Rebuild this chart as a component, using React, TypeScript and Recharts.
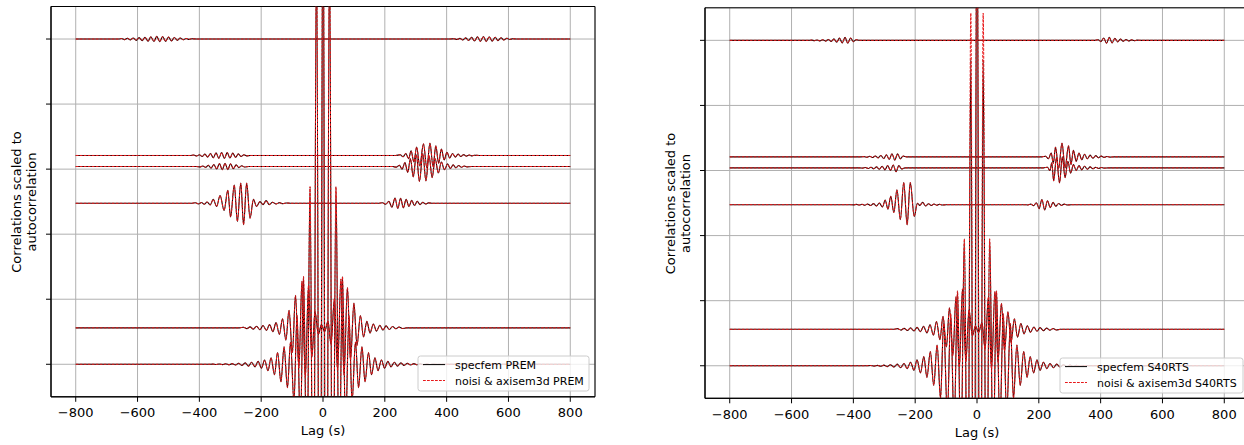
import React from "react";
import { LineChart, Line, XAxis, YAxis, CartesianGrid, ReferenceArea } from "recharts";

type Trace = [number, number][];

const lagTicks = [-800, -600, -400, -200, 0, 200, 400, 600, 800];
const levelTicks = [0, 1, 2, 3, 4, 5];
const traceOffsets = [0, 0.56, 2.475, 3.04, 3.21, 5.0];

const premLabels = ["specfem PREM", "noisi & axisem3d PREM"];
const s40Labels = ["specfem S40RTS", "noisi & axisem3d S40RTS"];

// ---------- PREM panel traces ([lag s, amplitude]) ----------
const premT1: Trace = [
  [-800, 0], [-370, 0], [-357, 0.003], [-346, -0.004], [-336, 0.005], [-325, -0.006], [-315, 0.007], [-304, -0.008],
  [-294, 0.01], [-283, -0.012], [-273, 0.015], [-262, -0.018], [-252, 0.022], [-241, -0.028], [-231, 0.03], [-220, -0.04],
  [-210, 0.045], [-199, -0.06], [-189, 0.065], [-178, -0.1], [-168, 0.1], [-157, -0.16], [-147, 0.18], [-136, -0.27],
  [-126, 0.27], [-115, -0.36], [-105, 0.34], [-94, -0.58], [-84, 0.75], [-73, -1.0], [-63, 1.35], [-52, -1.9],
  [-42, 2.73], [-31, -4], [-21, 6.5], [-10, -7], [0, 8], [10, -7], [21, 6.5], [31, -4], [42, 2.73], [52, -1.9],
  [63, 1.35], [73, -1.0], [84, 0.75], [94, -0.58], [105, 0.34], [115, -0.36], [126, 0.27], [136, -0.27], [147, 0.18],
  [157, -0.16], [168, 0.1], [178, -0.1], [189, 0.065], [199, -0.06], [210, 0.045], [220, -0.04], [231, 0.03],
  [241, -0.028], [252, 0.022], [262, -0.018], [273, 0.015], [283, -0.012], [294, 0.01], [304, -0.008], [315, 0.007],
  [325, -0.006], [336, 0.005], [346, -0.004], [357, 0.003], [370, 0], [800, 0],
];
const premT2: Trace = [
  [-800, 0], [-270, 0], [-257, 0.01], [-246, -0.012], [-236, 0.015], [-225, -0.02], [-215, 0.025], [-204, -0.03],
  [-194, 0.035], [-183, -0.04], [-173, 0.05], [-162, -0.06], [-152, 0.08], [-141, -0.1], [-131, 0.14], [-120, -0.19],
  [-110, 0.27], [-99, -0.38], [-89, 0.5], [-78, -0.62], [-68, 0.72], [-57, -0.75], [-47, 0.65], [-36, -0.45],
  [-26, 0.25], [-15, -0.1], [-5, 0.05], [5, -0.06], [16, 0.1], [26, -0.25], [37, 0.45], [47, -0.65], [58, 0.75],
  [68, -0.72], [79, 0.62], [89, -0.5], [100, 0.38], [110, -0.27], [121, 0.19], [131, -0.14], [142, 0.1], [152, -0.08],
  [163, 0.06], [173, -0.05], [184, 0.04], [194, -0.035], [204, 0.03], [215, -0.025], [225, 0.02], [236, -0.015],
  [246, 0.012], [257, -0.01], [270, 0], [800, 0],
];
const premT3: Trace = [
  [-800, 0], [-425, 0], [-413, 0.008], [-403, -0.01], [-393, 0.012], [-384, -0.014], [-375, 0.02], [-365, -0.025],
  [-355, 0.06], [-344, -0.05], [-333, 0.12], [-320, -0.11], [-308, 0.2], [-299, -0.21], [-287, 0.28], [-277, -0.28],
  [-266, 0.31], [-257, -0.33], [-247, 0.31], [-236, -0.23], [-225, 0.06], [-215, -0.05], [-204, 0.025], [-194, -0.02],
  [-184, 0.04], [-174, -0.02], [-163, 0.015], [-152, -0.012], [-141, 0.01], [-130, -0.007], [-118, 0.005], [-105, 0],
  [180, 0], [192, 0.008], [203, -0.015], [213, 0.03], [223, -0.06], [233, 0.08], [242, -0.08], [251, 0.075],
  [260, -0.07], [269, 0.06], [278, -0.05], [287, 0.045], [296, -0.035], [305, 0.03], [314, -0.02], [323, 0.014],
  [332, -0.01], [341, 0.006], [355, 0], [800, 0],
];
const premT4: Trace = [
  [-800, 0], [-410, 0], [-398, -0.006], [-389, 0.009], [-380, -0.013], [-371, 0.018], [-362, -0.024], [-353, 0.03],
  [-344, -0.038], [-335, 0.045], [-326, -0.05], [-317, 0.05], [-308, -0.048], [-299, 0.042], [-290, -0.035],
  [-281, 0.026], [-272, -0.018], [-263, 0.012], [-254, -0.007], [-240, 0],
  [225, 0], [238, -0.01], [247, 0.02], [256, -0.04], [265, 0.06], [274, -0.09], [283, 0.12], [292, -0.16], [302, 0.18],
  [312, -0.23], [323, 0.2], [333, -0.22], [343, 0.17], [353, -0.17], [363, 0.12], [373, -0.1], [383, 0.07],
  [393, -0.05], [403, 0.04], [412, -0.03], [421, 0.025], [430, -0.02], [439, 0.015], [448, -0.011], [457, 0.008],
  [466, -0.005], [480, 0], [800, 0],
];
const premT5: Trace = [
  [-800, 0], [-430, 0], [-418, 0.006], [-409, -0.008], [-400, 0.012], [-391, -0.016], [-382, 0.02], [-373, -0.026],
  [-364, 0.03], [-355, -0.036], [-346, 0.04], [-337, -0.044], [-328, 0.046], [-319, -0.046], [-310, 0.044],
  [-301, -0.04], [-292, 0.036], [-283, -0.03], [-274, 0.024], [-265, -0.016], [-256, 0.01], [-247, -0.006], [-235, 0],
  [235, 0], [250, 0.01], [259, -0.02], [268, 0.03], [277, -0.05], [285, 0.07], [294, -0.1], [303, 0.13], [313, -0.16],
  [325, 0.18], [336, -0.19], [346, 0.19], [356, -0.17], [365, 0.15], [374, -0.12], [383, 0.1], [392, -0.07],
  [401, 0.05], [410, -0.04], [419, 0.03], [428, -0.025], [437, 0.02], [446, -0.016], [455, 0.013], [464, -0.01],
  [473, 0.008], [482, -0.006], [491, 0.004], [505, 0], [800, 0],
];
const premT6: Trace = [
  [-800, 0], [-660, 0], [-652, 0.008], [-642, -0.01], [-633, 0.012], [-623, -0.014], [-614, 0.016], [-604, -0.02],
  [-595, 0.022], [-585, -0.025], [-576, 0.028], [-566, -0.032], [-557, 0.035], [-547, -0.038], [-538, 0.04],
  [-528, -0.04], [-519, 0.038], [-509, -0.036], [-500, 0.032], [-490, -0.028], [-481, 0.024], [-471, -0.02],
  [-462, 0.016], [-452, -0.012], [-443, 0.009], [-433, -0.006], [-424, 0.004], [-410, 0],
  [410, 0], [424, 0.004], [433, -0.007], [443, 0.01], [452, -0.014], [462, 0.018], [471, -0.022], [481, 0.026],
  [490, -0.03], [500, 0.034], [509, -0.036], [519, 0.038], [528, -0.038], [538, 0.036], [547, -0.032], [557, 0.028],
  [566, -0.024], [576, 0.02], [585, -0.016], [595, 0.012], [604, -0.008], [614, 0.005], [625, 0], [800, 0],
];

// ---------- S40RTS panel traces ----------
const s40T1: Trace = [
  [-800, 0], [-360, 0], [-344, 0.004], [-333, -0.005], [-322, 0.006], [-312, -0.008], [-301, 0.01], [-290, -0.013],
  [-280, 0.016], [-269, -0.02], [-258, 0.025], [-247, -0.03], [-236, 0.035], [-226, -0.045], [-215, 0.055],
  [-204, -0.07], [-194, 0.09], [-183, -0.11], [-172, 0.14], [-162, -0.18], [-151, 0.22], [-140, -0.3], [-129, 0.32],
  [-118, -0.5], [-108, 0.65], [-96, -0.75], [-85, 0.8], [-74, -0.95], [-63, 1.15], [-52, -1.5], [-41, 1.95],
  [-30, -3.2], [-20, 4.7], [-10, -6], [0, 8], [10, -6], [20, 4.7], [30, -3.2], [41, 1.95], [52, -1.5], [63, 1.15],
  [74, -0.95], [85, 0.8], [96, -0.75], [108, 0.65], [118, -0.5], [129, 0.32], [140, -0.3], [151, 0.22], [162, -0.18],
  [172, 0.14], [183, -0.11], [194, 0.09], [204, -0.07], [215, 0.055], [226, -0.045], [236, 0.035], [247, -0.03],
  [258, 0.025], [269, -0.02], [280, 0.016], [290, -0.013], [301, 0.01], [312, -0.008], [322, 0.006], [333, -0.005],
  [344, 0.004], [360, 0], [800, 0],
];
const s40T1NoisiPeaks: Trace = [[-20, 5.42], [20, 5.42]];
const s40T2: Trace = [
  [-800, 0], [-270, 0], [-257, 0.01], [-246, -0.012], [-236, 0.015], [-225, -0.018], [-215, 0.022], [-204, -0.026],
  [-194, 0.03], [-183, -0.036], [-173, 0.045], [-162, -0.055], [-152, 0.07], [-141, -0.09], [-131, 0.12],
  [-120, -0.16], [-110, 0.2], [-99, -0.27], [-89, 0.33], [-78, -0.4], [-68, 0.5], [-57, -0.58], [-47, 0.62],
  [-36, -0.5], [-26, 0.3], [-15, -0.1], [-5, 0.05], [5, -0.05], [16, 0.1], [26, -0.3], [37, 0.5], [47, -0.62],
  [58, 0.58], [68, -0.5], [79, 0.4], [89, -0.33], [100, 0.27], [110, -0.2], [121, 0.16], [131, -0.12], [142, 0.09],
  [152, -0.07], [163, 0.055], [173, -0.045], [184, 0.036], [194, -0.03], [204, 0.026], [215, -0.022], [225, 0.018],
  [236, -0.015], [246, 0.012], [257, -0.01], [270, 0], [800, 0],
];
const s40T3: Trace = [
  [-800, 0], [-410, 0], [-400, -0.003], [-390, 0.004], [-381, -0.005], [-372, 0.006], [-363, -0.008], [-354, 0.01],
  [-344, -0.013], [-335, 0.016], [-325, -0.02], [-316, 0.025], [-306, -0.035], [-297, 0.07], [-288, -0.07],
  [-279, 0.13], [-269, -0.12], [-259, 0.23], [-248, -0.23], [-237, 0.34], [-226, -0.31], [-216, 0.34], [-203, -0.18],
  [-193, 0.02], [-185, -0.01], [-176, 0.035], [-166, -0.02], [-157, 0.015], [-148, -0.012], [-139, 0.01],
  [-130, -0.008], [-121, 0.006], [-112, -0.005], [-100, 0],
  [150, 0], [165, -0.004], [174, 0.008], [183, -0.015], [192, 0.03], [201, -0.06], [210, 0.08], [219, -0.08],
  [228, 0.06], [237, -0.045], [246, 0.035], [255, -0.025], [264, 0.018], [273, -0.012], [282, 0.008], [291, -0.005],
  [305, 0], [800, 0],
];
const s40T4: Trace = [
  [-800, 0], [-380, 0], [-370, -0.004], [-361, 0.006], [-352, -0.008], [-343, 0.01], [-334, -0.013], [-325, 0.016],
  [-316, -0.02], [-307, 0.025], [-298, -0.03], [-289, 0.036], [-280, -0.04], [-271, 0.045], [-262, -0.06],
  [-253, 0.035], [-244, -0.015], [-233, 0],
  [215, 0], [228, 0.01], [236, -0.04], [242, 0.08], [248, -0.2], [257, 0.16], [267, -0.23], [276, 0.17], [285, -0.15],
  [294, 0.1], [303, -0.08], [312, 0.05], [321, -0.04], [330, 0.035], [339, -0.03], [348, 0.025], [357, -0.02],
  [366, 0.016], [375, -0.013], [384, 0.01], [393, -0.008], [402, 0.006], [411, -0.004], [425, 0], [800, 0],
];
const s40T5: Trace = [
  [-800, 0], [-375, 0], [-365, 0.004], [-356, -0.006], [-347, 0.008], [-338, -0.01], [-329, 0.013], [-320, -0.016],
  [-311, 0.02], [-302, -0.026], [-293, 0.032], [-284, -0.04], [-275, 0.048], [-266, -0.05], [-257, 0.045],
  [-248, -0.03], [-239, 0.012], [-228, 0],
  [210, 0], [222, 0.01], [231, -0.03], [240, 0.06], [247, -0.1], [254, 0.15], [264, -0.18], [275, 0.21], [285, -0.17],
  [296, 0.17], [304, -0.12], [312, 0.1], [321, -0.07], [330, 0.06], [339, -0.045], [348, 0.04], [357, -0.03],
  [366, 0.026], [375, -0.022], [384, 0.018], [393, -0.014], [402, 0.011], [411, -0.008], [420, 0.006], [430, -0.004],
  [442, 0], [800, 0],
];
const s40T6: Trace = [
  [-800, 0], [-545, 0], [-535, 0.004], [-526, -0.005], [-517, 0.006], [-508, -0.008], [-499, 0.01], [-490, -0.012],
  [-481, 0.014], [-472, -0.018], [-463, 0.022], [-454, -0.028], [-445, 0.034], [-436, -0.04], [-427, 0.045],
  [-418, -0.045], [-409, 0.035], [-400, -0.02], [-391, 0.01], [-380, 0],
  [380, 0], [392, 0.008], [401, -0.02], [410, 0.035], [419, -0.045], [428, 0.045], [437, -0.04], [446, 0.032],
  [455, -0.025], [464, 0.02], [473, -0.016], [482, 0.012], [491, -0.009], [500, 0.007], [509, -0.005], [518, 0.003],
  [530, 0], [800, 0],
];

const s40T1Noisi: Trace = s40T1.map(([lag, a]) => {
  const o = s40T1NoisiPeaks.find((p) => p[0] === lag);
  return [lag, o ? o[1] : a] as [number, number];
});

const premSpecfem = [premT1, premT2, premT3, premT4, premT5, premT6];
const premNoisi = [premT1, premT2, premT3, premT4, premT5, premT6];
const s40Specfem = [s40T1, s40T2, s40T3, s40T4, s40T5, s40T6];
const s40Noisi = [s40T1Noisi, s40T2, s40T3, s40T4, s40T5, s40T6];

const FONT = "'DejaVu Sans', sans-serif";
const fmtLag = (v: number) => (v < 0 ? "\u2212" + Math.abs(v) : String(v));
const rows = (t: Trace, off: number) => t.map(([lag, a]) => ({ lag, v: off + a }));

interface PanelProps {
  left: number;
  width: number;
  yAxisWidth: number;
  margin: { top: number; right: number; bottom: number; left: number };
  specfem: Trace[];
  noisi: Trace[];
}

function Panel({ left, width, yAxisWidth, margin, specfem, noisi }: PanelProps) {
  return (
    <div style={{ position: "absolute", left, top: 0 }}>
      <LineChart width={width} height={445} margin={margin}>
        <CartesianGrid stroke="#b0b0b0" strokeWidth={1} />
        <XAxis
          dataKey="lag"
          type="number"
          domain={[-880, 880]}
          ticks={lagTicks}
          allowDataOverflow
          tickFormatter={fmtLag}
          tick={{ fontSize: 13, fill: "#000", fontFamily: FONT }}
          tickSize={5}
          tickMargin={6}
          height={30}
          stroke="#000"
          axisLine={{ stroke: "#000", strokeWidth: 1 }}
          tickLine={{ stroke: "#000" }}
        />
        <YAxis
          type="number"
          domain={[-0.5, 5.5]}
          ticks={levelTicks}
          allowDataOverflow
          width={yAxisWidth}
          tickFormatter={() => ""}
          tickSize={5}
          axisLine={{ stroke: "#000", strokeWidth: 1 }}
          tickLine={{ stroke: "#000" }}
        />
        {specfem.map((t, i) => (
          <Line
            key={"s" + i}
            data={rows(t, traceOffsets[i])}
            dataKey="v"
            type="monotone"
            stroke="#1a0000"
            strokeWidth={1.1}
            dot={false}
            activeDot={false}
            isAnimationActive={false}
          />
        ))}
        {noisi.map((t, i) => (
          <Line
            key={"n" + i}
            data={rows(t, traceOffsets[i])}
            dataKey="v"
            type="monotone"
            stroke="#e8191b"
            strokeWidth={1}
            strokeDasharray="2.8 1.2"
            dot={false}
            activeDot={false}
            isAnimationActive={false}
          />
        ))}
        <ReferenceArea x1={-880} x2={880} y1={-0.5} y2={5.5} fill="none" stroke="#000" strokeWidth={1} ifOverflow="visible" />
      </LineChart>
    </div>
  );
}

function LegendBox({ x, y, w, h, labels }: { x: number; y: number; w: number; h: number; labels: string[] }) {
  return (
    <g>
      <rect x={x} y={y} width={w} height={h} rx={2.5} fill="#fff" fillOpacity={0.8} stroke="#cccccc" strokeWidth={1} />
      <line x1={x + 5} x2={x + 27} y1={y + 8.6} y2={y + 8.6} stroke="#000" strokeWidth={1} />
      <line x1={x + 5} x2={x + 27} y1={y + 24.5} y2={y + 24.5} stroke="#e8191b" strokeWidth={1} strokeDasharray="2.8 1.2" />
      <text x={x + 37} y={y + 12.6} fontSize={11} fontFamily={FONT} fill="#000">{labels[0]}</text>
      <text x={x + 37} y={y + 28.5} fontSize={11} fontFamily={FONT} fill="#000">{labels[1]}</text>
    </g>
  );
}

export default function App() {
  return (
    <div style={{ position: "absolute", left: 0, top: 0, width: 1244, height: 445, overflow: "hidden", background: "#fff", fontFamily: FONT }}>
      <Panel
        left={0}
        width={622}
        yAxisWidth={51}
        margin={{ top: 6.5, right: 27, bottom: 18.2, left: 0 }}
        specfem={premSpecfem}
        noisi={premNoisi}
      />
      <Panel
        left={640}
        width={640}
        yAxisWidth={65}
        margin={{ top: 7.8, right: 31, bottom: 16.7, left: 0 }}
        specfem={s40Specfem}
        noisi={s40Noisi}
      />
      <svg width={1244} height={445} style={{ position: "absolute", left: 0, top: 0, pointerEvents: "none" }}>
        <g fontFamily={FONT} fontSize={13} fill="#000" textAnchor="middle">
          <text x={323} y={434.5}>Lag (s)</text>
          <text x={977} y={436.8}>Lag (s)</text>
          <text transform="translate(20.5,202) rotate(-90)">Correlations scaled to</text>
          <text transform="translate(36,202) rotate(-90)">autocorrelation</text>
          <text transform="translate(674.7,203.5) rotate(-90)">Correlations scaled to</text>
          <text transform="translate(690,203.5) rotate(-90)">autocorrelation</text>
        </g>
        <LegendBox x={418} y={356} w={171} h={35} labels={premLabels} />
        <LegendBox x={1060} y={358} w={183} h={35} labels={s40Labels} />
      </svg>
    </div>
  );
}
